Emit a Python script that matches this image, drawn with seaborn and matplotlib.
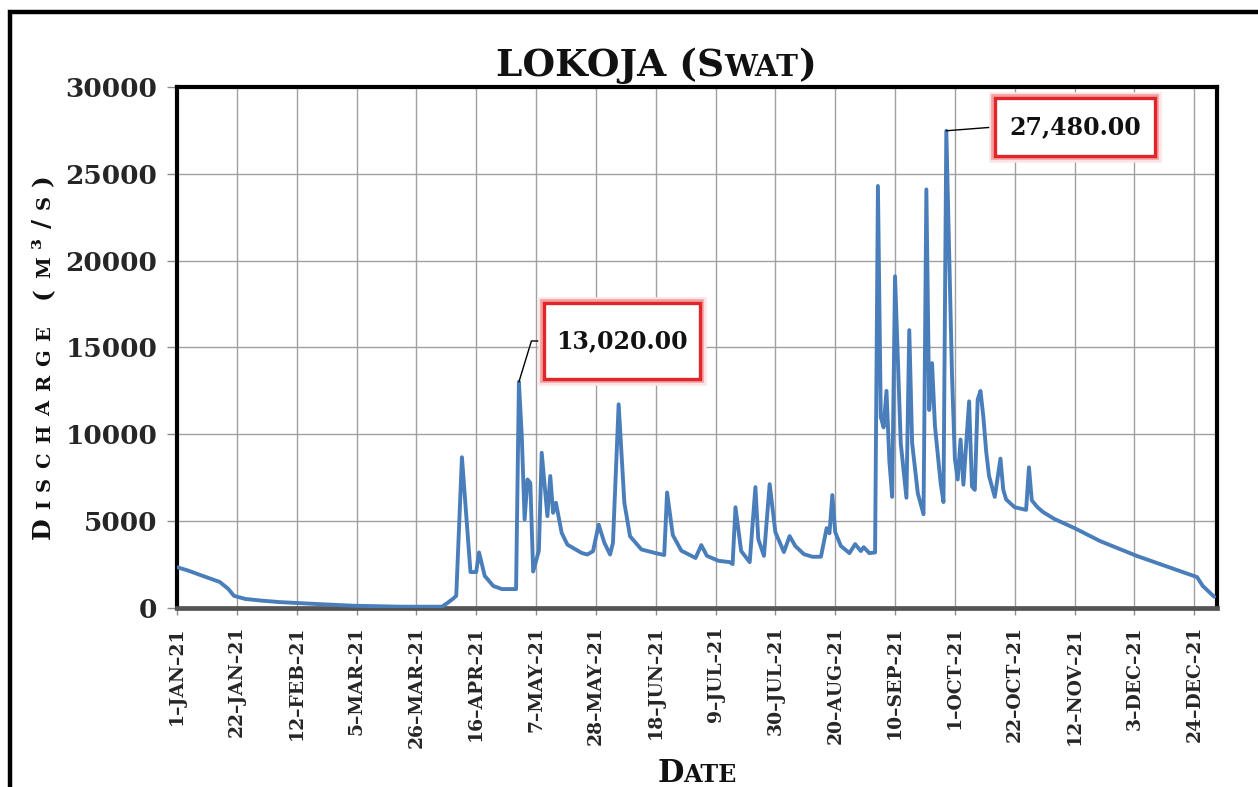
import matplotlib
matplotlib.use("Agg")
import matplotlib.pyplot as plt
import matplotlib.patheffects as pe
import matplotlib.dates as mdates
from matplotlib.patches import Rectangle
import numpy as np
import pandas as pd
import seaborn as sns

# ---------------- data ----------------
dates = [
    "2021-01-01", "2021-01-05", "2021-01-10", "2021-01-16", "2021-01-19", "2021-01-21",
    "2021-01-25", "2021-01-31", "2021-02-06", "2021-02-12", "2021-02-19", "2021-03-04",
    "2021-03-21", "2021-04-04", "2021-04-06", "2021-04-08", "2021-04-09", "2021-04-11",
    "2021-04-14", "2021-04-16", "2021-04-17", "2021-04-19", "2021-04-22", "2021-04-25",
    "2021-04-30", "2021-05-01", "2021-05-02", "2021-05-03", "2021-05-04", "2021-05-05",
    "2021-05-06", "2021-05-08", "2021-05-09", "2021-05-11", "2021-05-12", "2021-05-13",
    "2021-05-14", "2021-05-16", "2021-05-18", "2021-05-23", "2021-05-25", "2021-05-27",
    "2021-05-29", "2021-05-31", "2021-06-02", "2021-06-03", "2021-06-05", "2021-06-07",
    "2021-06-09", "2021-06-13", "2021-06-18", "2021-06-21", "2021-06-22", "2021-06-24",
    "2021-06-27", "2021-07-02", "2021-07-04", "2021-07-06", "2021-07-10", "2021-07-14",
    "2021-07-15", "2021-07-16", "2021-07-18", "2021-07-21", "2021-07-23", "2021-07-24",
    "2021-07-26", "2021-07-28", "2021-07-30", "2021-08-02", "2021-08-04", "2021-08-06",
    "2021-08-09", "2021-08-12", "2021-08-15", "2021-08-17", "2021-08-18", "2021-08-19",
    "2021-08-20", "2021-08-22", "2021-08-25", "2021-08-27", "2021-08-29", "2021-08-30",
    "2021-09-01", "2021-09-03", "2021-09-04", "2021-09-05", "2021-09-06", "2021-09-07",
    "2021-09-08", "2021-09-09", "2021-09-10", "2021-09-12", "2021-09-14", "2021-09-15",
    "2021-09-16", "2021-09-18", "2021-09-20", "2021-09-21", "2021-09-22", "2021-09-23",
    "2021-09-24", "2021-09-26", "2021-09-27", "2021-09-28", "2021-09-30", "2021-10-01",
    "2021-10-02", "2021-10-03", "2021-10-04", "2021-10-06", "2021-10-07", "2021-10-08",
    "2021-10-09", "2021-10-10", "2021-10-11", "2021-10-12", "2021-10-13", "2021-10-15",
    "2021-10-17", "2021-10-18", "2021-10-19", "2021-10-22", "2021-10-26", "2021-10-27",
    "2021-10-28", "2021-10-30", "2021-11-01", "2021-11-05", "2021-11-12", "2021-11-21",
    "2021-12-04", "2021-12-17", "2021-12-25", "2021-12-27", "2021-12-31",
]
discharge = [
    2350, 2150, 1850, 1500, 1100, 700,
    520, 420, 340, 290, 230, 130,
    75, 75, 300, 550, 700, 8680,
    2070, 2070, 3200, 1850, 1270, 1090,
    1090, 13020, 9900, 5100, 7400, 7200,
    2100, 3300, 8940, 5290, 7600, 5480,
    6060, 4330, 3650, 3170, 3080, 3270,
    4800, 3750, 3080, 3750, 11730, 6060,
    4130, 3370, 3160, 3050, 6650, 4200,
    3300, 2880, 3620, 3000, 2720, 2640,
    2530, 5800, 3280, 2640, 6960, 3970,
    3000, 7130, 4370, 3220, 4140, 3570,
    3100, 2950, 2950, 4600, 4300, 6500,
    4370, 3570, 3160, 3680, 3280, 3500,
    3160, 3200, 24300, 11000, 10400, 12500,
    8500, 6400, 19100, 9500, 6350, 16000,
    9500, 6600, 5400, 24100, 11400, 14100,
    10500, 7200, 6100, 27480, 13400, 8600,
    7400, 9700, 7100, 11900, 7000, 6800,
    12000, 12500, 11000, 9000, 7600, 6400,
    8600, 6800, 6250, 5800, 5650, 8100,
    6200, 5800, 5520, 5120, 4600, 3850,
    2990, 2240, 1780, 1270, 650,
]
tick_dates = ["2021-01-01", "2021-01-22", "2021-02-12", "2021-03-05", "2021-03-26",
              "2021-04-16", "2021-05-07", "2021-05-28", "2021-06-18", "2021-07-09",
              "2021-07-30", "2021-08-20", "2021-09-10", "2021-10-01", "2021-10-22",
              "2021-11-12", "2021-12-03", "2021-12-24"]
tick_labels = ["1–JAN–21", "22–JAN–21", "12–FEB–21", "5–MAR–21", "26–MAR–21",
               "16–APR–21", "7–MAY–21", "28–MAY–21", "18–JUN–21", "9–JUL–21",
               "30–JUL–21", "20–AUG–21", "10–SEP–21", "1–OCT–21", "22–OCT–21",
               "12–NOV–21", "3–DEC–21", "24–DEC–21"]
y_ticks = [0, 5000, 10000, 15000, 20000, 25000, 30000]
peak_dates = ["2021-05-01", "2021-09-28"]
peak_values = [13020, 27480]
peak_labels = ["13,020.00", "27,480.00"]
title_text = "LOKOJA (Swat)"
x_title = "Date"
y_title = "Discharge (m³/s)"

# ---------------- figure ----------------
W, H, DPI = 1258, 787, 100
sns.set_style("white")
plt.rcParams["font.family"] = ["DejaVu Serif"]
plt.rcParams["font.weight"] = "bold"

fig = plt.figure(figsize=(W / DPI, H / DPI), dpi=DPI)
L, R, T, B = 177, 1217, 87, 608
ax = fig.add_axes([L / W, 1 - B / H, (R - L) / W, (B - T) / H])

df = pd.DataFrame({"date": pd.to_datetime(dates), "discharge": discharge})
sns.lineplot(data=df, x="date", y="discharge", ax=ax, color="#4a7ebb",
             linewidth=2.8, zorder=3)

ax.set_xlim(pd.Timestamp("2021-01-01"), pd.Timestamp("2022-01-01"))
ax.set_ylim(0, 30000)
ax.set_xticks(pd.to_datetime(tick_dates))
ax.set_xticklabels(tick_labels, rotation=90, fontsize=13.5, fontweight="bold")
ax.set_yticks(y_ticks)
ax.set_yticklabels([str(v) for v in y_ticks], fontsize=19, fontweight="bold")
ax.grid(True, color="#a0a0a0", lw=1.0)
ax.set_axisbelow(True)
ax.set_xlabel("")
ax.set_ylabel("")
for s in ["top", "right", "left"]:
    ax.spines[s].set_color("black")
    ax.spines[s].set_linewidth(3)
ax.spines["bottom"].set_color("#555555")
ax.spines["bottom"].set_linewidth(3.4)
ax.tick_params(axis="x", length=5, color="#8c8c8c", width=1, pad=8, bottom=True)
ax.tick_params(axis="y", length=7, color="#8c8c8c", width=1, pad=7, left=True)

# ---------------- annotations ----------------
boxes = [(544, 700, 303, 379), (995, 1155, 98, 156)]
conns = ["angle,angleA=0,angleB=73,rad=0", "arc3,rad=0"]
for pd_, pv, lab, (bx0, bx1, by0, by1), cs in zip(peak_dates, peak_values, peak_labels, boxes, conns):
    x0 = (bx0 - L) / (R - L)
    x1 = (bx1 - L) / (R - L)
    y0 = (B - by1) / (B - T)
    y1 = (B - by0) / (B - T)
    rect = Rectangle((x0, y0), x1 - x0, y1 - y0, transform=ax.transAxes, fc="white",
                     ec="#e0262b", lw=2.4, zorder=5, clip_on=False)
    rect.set_path_effects([pe.Stroke(linewidth=9, foreground="#fde4e4"),
                           pe.Stroke(linewidth=5.5, foreground="#f3a0a0"),
                           pe.Normal()])
    ax.add_patch(rect)
    ax.text((x0 + x1) / 2, (y0 + y1) / 2, lab, transform=ax.transAxes, ha="center",
            va="center", fontsize=17, fontweight="bold", zorder=6, color="#111111")
    ax.annotate("", xy=(mdates.date2num(pd.Timestamp(pd_)), pv), xycoords="data",
                xytext=(x0, (y0 + y1) / 2), textcoords="axes fraction",
                arrowprops=dict(arrowstyle="-", color="black", lw=1.0, shrinkA=0,
                                shrinkB=0, connectionstyle=cs), zorder=4)

# ---------------- small-caps text helper ----------------
renderer = fig.canvas.get_renderer()


def advance(s, fs):
    t1 = fig.text(0, 0, "|" + s + "|", fontsize=fs, fontweight="bold")
    t2 = fig.text(0, 0, "||", fontsize=fs, fontweight="bold")
    w = t1.get_window_extent(renderer).width - t2.get_window_extent(renderer).width
    t1.remove()
    t2.remove()
    return w


def small_caps(x, y, text, size, ratio=0.78, rotation=0, tracking=0.0, per_char=False):
    runs = []
    for ch in text:
        key = (ch.upper(), size * ratio) if ch.islower() else (ch, size)
        if not per_char and runs and runs[-1][1] == key[1]:
            runs[-1] = (runs[-1][0] + key[0], key[1])
        else:
            runs.append(key)
    widths = [advance(s, fs) + tracking for s, fs in runs]
    total = sum(widths) - tracking
    th = np.deg2rad(rotation)
    c, sn = np.cos(th), np.sin(th)
    pos = -total / 2
    for (s, fs), w in zip(runs, widths):
        fig.text((x + pos * c) / W, (y + pos * sn) / H, s, fontsize=fs, fontweight="bold",
                 rotation=rotation, rotation_mode="anchor", ha="left", va="baseline",
                 color="#111111")
        pos += w


small_caps(656, H - 76, title_text, 27)
small_caps(697, H - 782, x_title, 22)
small_caps(50, H - 357, y_title, 18, rotation=90, tracking=9, per_char=True)

# outer frame
fig.add_artist(Rectangle((10 / W, -0.05), (1300 - 10) / W, 1.05 - 12 / H,
                         transform=fig.transFigure, fill=False, ec="black", lw=3.2,
                         clip_on=False))

fig.savefig("out.png", dpi=DPI)
